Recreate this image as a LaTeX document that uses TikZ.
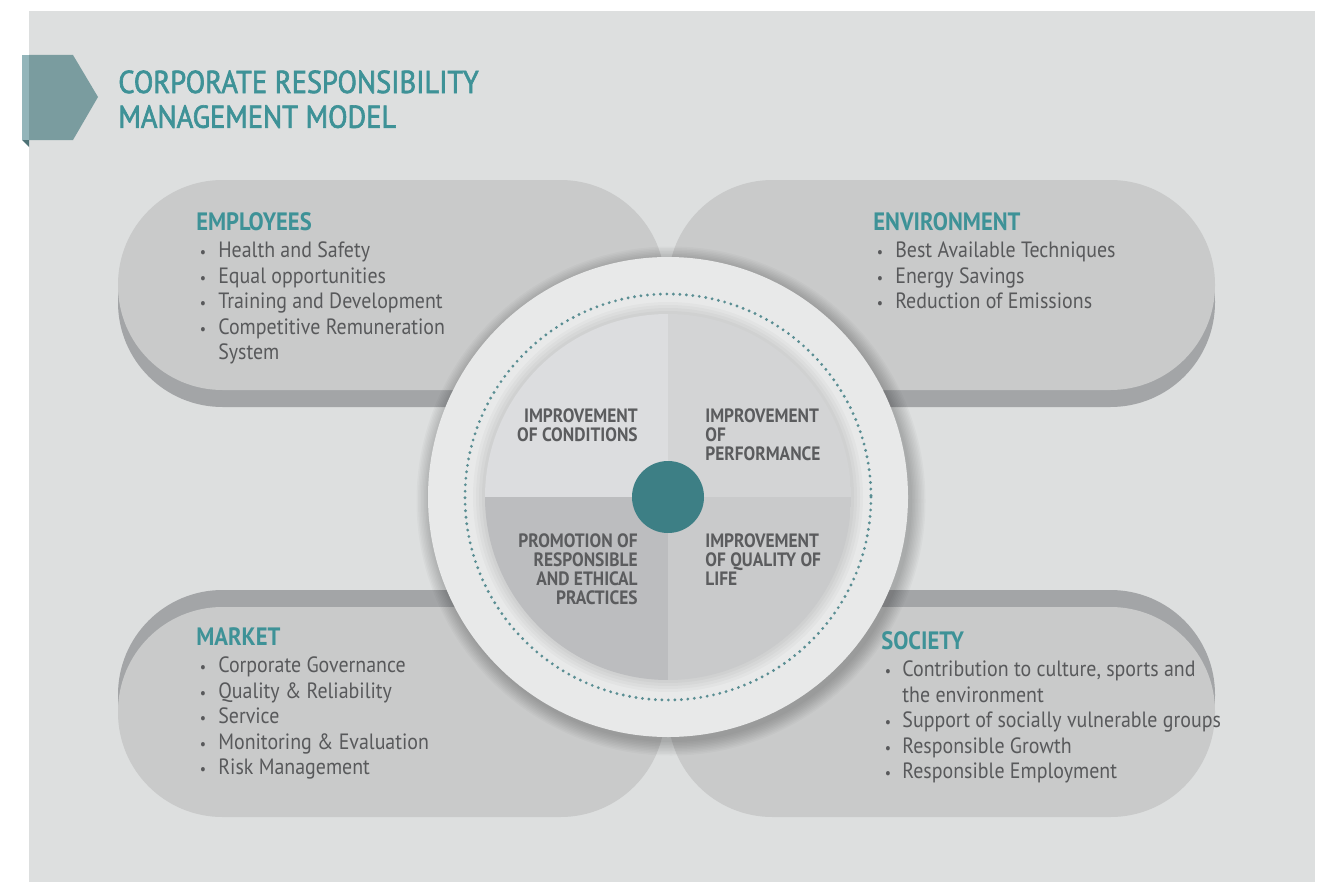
\documentclass[tikz,border=0pt]{standalone}
\usepackage{fontspec}
\setmainfont{PT Sans}[FakeStretch=0.9]
\newfontfamily\titlefont{PT Sans}[FakeStretch=0.9, FakeBold=2]
\usepackage{xcolor}
\usetikzlibrary{positioning,calc}

\definecolor{panelgray}{HTML}{DDDFDF}
\definecolor{tabteal}{HTML}{7A9C9F}
\definecolor{tablight}{HTML}{93B5BA}
\definecolor{tabfold}{HTML}{4E7276}
\definecolor{titleteal}{HTML}{3E9297}
\definecolor{pillface}{HTML}{C9CACA}
\definecolor{pillside}{HTML}{A3A5A7}
\definecolor{ringgray}{HTML}{E8E9E9}
\definecolor{qtl}{HTML}{DCDDDF}
\definecolor{qtr}{HTML}{D3D4D5}
\definecolor{qbl}{HTML}{BCBDBF}
\definecolor{qbr}{HTML}{C9CACB}
\definecolor{dotteal}{HTML}{5A8E93}
\definecolor{hubteal}{HTML}{3D7F85}
\definecolor{listgray}{HTML}{58595B}
\definecolor{quadgray}{HTML}{5B5C5E}

\newcommand{\crbullet}{\scalebox{0.7}{\textbullet}}
\newcommand{\crhead}[1]{\textcolor{titleteal}{\fontsize{14.3}{14.5}\selectfont\bfseries #1}}

\begin{document}
\begin{tikzpicture}[x=0.02cm,y=-0.02cm,
    pill/.style={rounded corners=2.09cm},
    title/.style={inner sep=0pt, text=titleteal, font=\titlefont\fontsize{18}{19.8}\selectfont},
    group/.style={inner sep=0pt, text=listgray, font=\fontsize{12.6}{14.5}\selectfont},
    quad/.style={inner sep=0pt, text=quadgray, font=\bfseries\fontsize{11}{10.2}\selectfont}]
    \useasboundingbox (0,0) rectangle (1325,882);

    % Background
    \fill[white] (0,0) rectangle (1325,882);
    \fill[panelgray] (29,11) rectangle (1315,882);

    % Title tab
    \fill[tablight] (22,55) rectangle (29,140);
    \fill[tabteal] (29,55) -- (73,55) -- (98,97) -- (73,140) -- (29,140) -- cycle;
    \fill[tabfold] (22,140) -- (29,140) -- (29,147) -- cycle;
    \node[title, anchor=base west] (title) at (118,93)
        {\begin{tabular}[t]{@{}l@{}}CORPORATE RESPONSIBILITY\\ MANAGEMENT MODEL\end{tabular}};

    % Pills (side first, face on top)
    \fill[pillside, pill] (118,197) rectangle (665,407);
    \fill[pillface, pill] (118,180) rectangle (665,390);
    \fill[pillside, pill] (668,197) rectangle (1215,407);
    \fill[pillface, pill] (668,180) rectangle (1215,390);
    \fill[pillside, pill] (118,590) rectangle (665,800);
    \fill[pillface, pill] (118,607) rectangle (665,817);
    \fill[pillside, pill] (668,590) rectangle (1215,800);
    \fill[pillface, pill] (668,607) rectangle (1215,817);

    % Wheel
    \coordinate (hub) at (668,497);
    \foreach \r in {1,2.5,...,14.5}
        \fill[black, opacity=0.025] (671,501) circle (240+\r);
    \fill[ringgray] (hub) circle (240);
    \foreach \r in {186,189,192,195}
        \fill[black, opacity=0.025] (hub) circle (\r);
    \begin{scope}
        \clip (hub) circle (183);
        \fill[qtl] (485,314) rectangle (668,497);
        \fill[qtr] (668,314) rectangle (851,497);
        \fill[qbl] (485,497) rectangle (668,680);
        \fill[qbr] (668,497) rectangle (851,680);
    \end{scope}
    \draw[dotteal, line width=1.8pt, line cap=round, dash pattern=on 0pt off 3.7pt] (hub) circle (203);
    \fill[hubteal] (hub) circle (36);

    % Quadrant labels
    \node[quad, anchor=base east] (cond) at (638,422)
        {\begin{tabular}[t]{@{}r@{}}IMPROVEMENT\\ OF CONDITIONS\end{tabular}};
    \node[quad, anchor=base west] (perf) at (705,422)
        {\begin{tabular}[t]{@{}l@{}}IMPROVEMENT\\ OF\\ PERFORMANCE\end{tabular}};
    \node[quad, anchor=base east] (ethic) at (638,547)
        {\begin{tabular}[t]{@{}r@{}}PROMOTION OF\\ RESPONSIBLE\\ AND ETHICAL\\ PRACTICES\end{tabular}};
    \node[quad, anchor=base west] (life) at (705,547)
        {\begin{tabular}[t]{@{}l@{}}IMPROVEMENT\\ OF QUALITY OF\\ LIFE\end{tabular}};

    % Groups
    \node[group, anchor=base west] (employees) at (196,230)
        {\begin{tabular}[t]{@{\hspace{2pt}}p{10.5pt}@{}l@{}}
        \multicolumn{2}{@{}l@{}}{\crhead{EMPLOYEES}}\\[1.4pt]
        \crbullet & Health and Safety\\
        \crbullet & Equal opportunities\\
        \crbullet & Training and Development\\
        \crbullet & Competitive Remuneration\\
                  & System
        \end{tabular}};
    \node[group, anchor=base west] (environment) at (873,230)
        {\begin{tabular}[t]{@{\hspace{2pt}}p{10.5pt}@{}l@{}}
        \multicolumn{2}{@{}l@{}}{\crhead{ENVIRONMENT}}\\[1.4pt]
        \crbullet & Best Available Techniques\\
        \crbullet & Energy Savings\\
        \crbullet & Reduction of Emissions
        \end{tabular}};
    \node[group, anchor=base west] (market) at (196,645)
        {\begin{tabular}[t]{@{\hspace{2pt}}p{10.5pt}@{}l@{}}
        \multicolumn{2}{@{}l@{}}{\crhead{MARKET}}\\[1.4pt]
        \crbullet & Corporate Governance\\
        \crbullet & Quality \& Reliability\\
        \crbullet & Service\\
        \crbullet & Monitoring \& Evaluation\\
        \crbullet & Risk Management
        \end{tabular}};
    \node[group, anchor=base west] (society) at (881,649)
        {\begin{tabular}[t]{@{\hspace{2pt}}p{10pt}@{}l@{}}
        \multicolumn{2}{@{}l@{}}{\crhead{SOCIETY}}\\[1.4pt]
        \crbullet & Contribution to culture, sports and\\
                  & the environment\\
        \crbullet & Support of socially vulnerable groups\\
        \crbullet & Responsible Growth\\
        \crbullet & Responsible Employment
        \end{tabular}};
\end{tikzpicture}
\end{document}
